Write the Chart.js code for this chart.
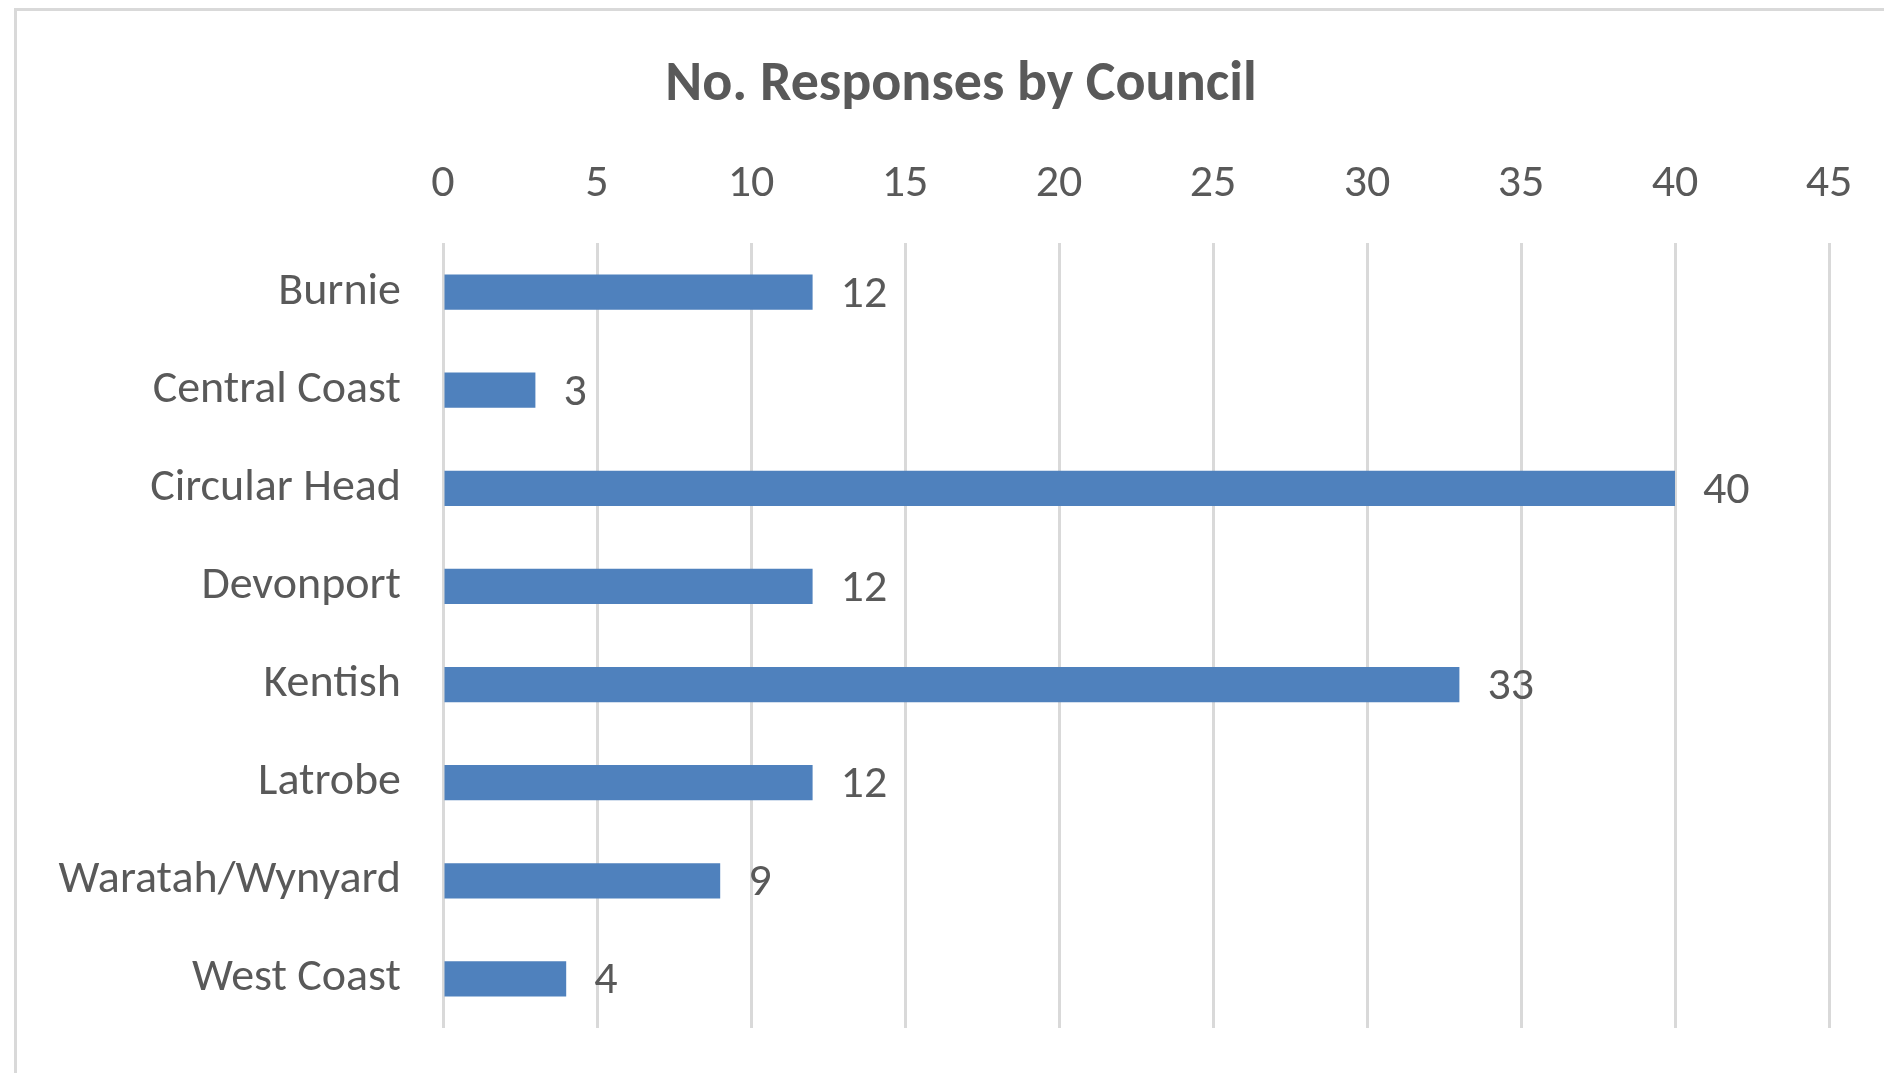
<!DOCTYPE html>
<html>
<head>
<meta charset="utf-8">
<script src="https://cdn.jsdelivr.net/npm/chart.js@4"></script>
<style>
  html, body { margin:0; padding:0; background:#fff; overflow:hidden; }
  #wrap { position:relative; width:1884px; height:1073px; }
  #frame { position:absolute; left:14px; top:8px; width:2000px; height:2000px; border:3px solid #d9d9d9; box-sizing:border-box; }
  canvas { position:absolute; left:0; top:0; }
</style>
</head>
<body>
<div id="wrap">
  <div id="frame"></div>
  <canvas id="chart" width="1884" height="1073"></canvas>
</div>
<script>
const councils = ['Burnie', 'Central Coast', 'Circular Head', 'Devonport', 'Kentish', 'Latrobe', 'Waratah/Wynyard', 'West Coast'];
const responses = [12, 3, 40, 12, 33, 12, 9, 4];
const chartTitle = 'No. Responses by Council';

const FONT = 'Carlito, "Liberation Sans Narrow", "Open Sans", sans-serif';
const TXT = '#595959';

// value labels at the end of each bar
const barLabels = {
  id: 'barLabels',
  afterDatasetsDraw(chart) {
    const ctx = chart.ctx;
    const meta = chart.getDatasetMeta(0);
    ctx.save();
    ctx.font = '46px ' + FONT;
    ctx.fillStyle = TXT;
    ctx.textAlign = 'left';
    ctx.textBaseline = 'middle';
    meta.data.forEach((bar, i) => {
      ctx.fillText(String(responses[i]), bar.x + 28, bar.y + 3);
    });
    ctx.restore();
  }
};

// title centred over the whole frame (not just the plot)
const frameTitle = {
  id: 'frameTitle',
  afterDraw(chart) {
    const ctx = chart.ctx;
    ctx.save();
    ctx.font = 'bold 56px ' + FONT;
    ctx.fillStyle = TXT;
    ctx.textAlign = 'center';
    ctx.textBaseline = 'alphabetic';
    ctx.fillText(chartTitle, 961, 100);
    ctx.restore();
  }
};

new Chart(document.getElementById('chart'), {
  type: 'bar',
  data: {
    labels: councils,
    datasets: [{ data: responses, backgroundColor: '#4f81bd', barPercentage: 0.36, categoryPercentage: 1 }]
  },
  options: {
    indexAxis: 'y',
    responsive: false,
    animation: false,
    layout: { padding: { left: 0, right: 55, top: 132, bottom: 45 } },
    plugins: {
      legend: { display: false },
      tooltip: { enabled: false },
      title: { display: false }
    },
    scales: {
      x: {
        position: 'top', min: 0, max: 45,
        ticks: { stepSize: 5, color: TXT, padding: 31, font: { family: FONT, size: 46 } },
        grid: { color: '#d9d9d9', lineWidth: 3, drawTicks: false },
        border: { display: false },
        afterFit(scale) { scale.height = 111; scale.paddingLeft = 0; scale.paddingRight = 0; }
      },
      y: {
        ticks: { color: TXT, padding: 42, font: { family: FONT, size: 46 } },
        grid: { display: false, drawTicks: false },
        border: { display: false },
        afterFit(scale) { scale.width = 443; scale.paddingTop = 0; scale.paddingBottom = 0; }
      }
    }
  },
  plugins: [barLabels, frameTitle]
});
</script>
</body>
</html>
